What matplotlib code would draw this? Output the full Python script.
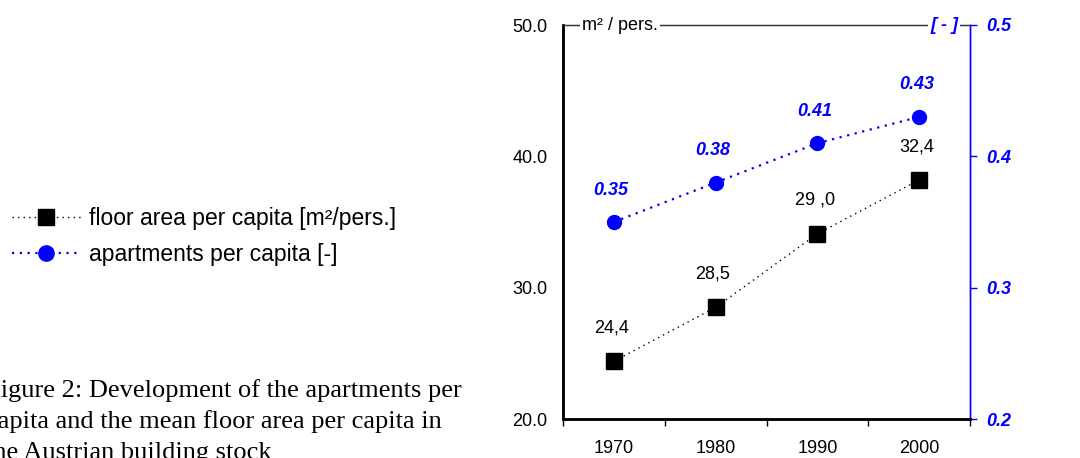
import matplotlib
matplotlib.use("Agg")
import matplotlib.pyplot as plt

years = ["1970", "1980", "1990", "2000"]
floor_area = [24.4, 28.5, 34.1, 38.2]
floor_labels = ["24,4", "28,5", "29 ,0", "32,4"]
apartments = [0.35, 0.38, 0.41, 0.43]
apt_labels = ["0.35", "0.38", "0.41", "0.43"]
left_ticks = [20.0, 30.0, 40.0, 50.0]
right_ticks = [0.2, 0.3, 0.4, 0.5]
caption = ["Figure 2: Development of the apartments per",
           "capita and the mean floor area per capita in",
           "the Austrian building stock"]

plt.rcParams['font.family'] = ['Liberation Sans', 'DejaVu Sans']
W, H = 1080, 458
fig = plt.figure(figsize=(W / 100, H / 100), dpi=100)
ax = fig.add_axes([563 / W, 1 - 419 / H, (970 - 563) / W, (419 - 25) / H])
ax2 = ax.twinx()

x = list(range(len(years)))
fs = 13
blue = '#0000ff'

l1, = ax.plot(x, floor_area, color='black', linestyle=(0, (1, 3)), linewidth=1.0,
              marker='s', markersize=11, markerfacecolor='black', markeredgecolor='black',
              label='floor area per capita [m²/pers.]')
l2, = ax2.plot(x, apartments, color=blue, linestyle=(0, (1, 2.5)), linewidth=1.6,
               marker='o', markersize=10, markerfacecolor=blue, markeredgecolor=blue,
               label='apartments per capita [-]')

ax.set_xlim(-0.5, len(years) - 0.5)
ax.set_ylim(20, 50)
ax2.set_ylim(0.2, 0.5)

ax.set_xticks(x)
ax.set_xticklabels(years, fontsize=fs)
ax.tick_params(axis='x', which='major', length=0, pad=15)
ax.set_xticks([i - 0.5 for i in range(len(years) + 1)], minor=True)
ax.tick_params(axis='x', which='minor', length=5, width=1, color='black', direction='out')

ax.set_yticks(left_ticks)
ax.set_yticklabels([f"{v:.1f}" for v in left_ticks], fontsize=fs)
ax.tick_params(axis='y', length=0, pad=11)

ax2.set_yticks(right_ticks)
ax2.set_yticklabels([f"{v:.1f}" for v in right_ticks], fontsize=fs,
                    color=blue, fontweight='bold', fontstyle='italic')
ax2.tick_params(axis='y', length=5, width=1, color=blue, direction='out', pad=7)

for a in (ax, ax2):
    a.spines['left'].set_linewidth(1.8)
    a.spines['left'].set_color('black')
    a.spines['bottom'].set_linewidth(1.8)
    a.spines['bottom'].set_color('black')
    a.spines['right'].set_color(blue)
    a.spines['right'].set_linewidth(1.0)
    a.spines['top'].set_color('#333333')
    a.spines['top'].set_linewidth(0.9)

for i, (v, lab) in enumerate(zip(floor_area, floor_labels)):
    ax.annotate(lab, (i, v), xytext=(-2, 24), textcoords='offset points',
                ha='center', va='center', fontsize=fs, color='black')
for i, (v, lab) in enumerate(zip(apartments, apt_labels)):
    ax2.annotate(lab, (i, v), xytext=(-2, 23), textcoords='offset points',
                 ha='center', va='center', fontsize=fs, color=blue,
                 fontweight='bold', fontstyle='italic')

ax2.text(582 / W, 1 - 25 / H, "m² / pers.", transform=fig.transFigure, ha='left', va='center',
         fontsize=fs, color='black',
         bbox=dict(facecolor='white', edgecolor='none', pad=1.5))
ax2.text(958 / W, 1 - 25 / H, "[ - ]", transform=fig.transFigure, ha='right', va='center',
         fontsize=fs, color=blue, fontweight='bold', fontstyle='italic',
         bbox=dict(facecolor='white', edgecolor='none', pad=1.5))

fig.legend(handles=[l1, l2], loc='upper left', bbox_to_anchor=(12 / W, 1 - 207 / H),
           frameon=False, fontsize=16.5, handlelength=3.0, handletextpad=0.35,
           labelspacing=0.55, borderpad=0, borderaxespad=0, markerscale=1.1)

for k, line in enumerate(caption):
    fig.text(-14 / W, 1 - (391 + 31 * k) / H, line, ha='left', va='center',
             fontsize=19, family=['Liberation Serif', 'DejaVu Serif'], color='black')

fig.savefig("out.png", dpi=100)
